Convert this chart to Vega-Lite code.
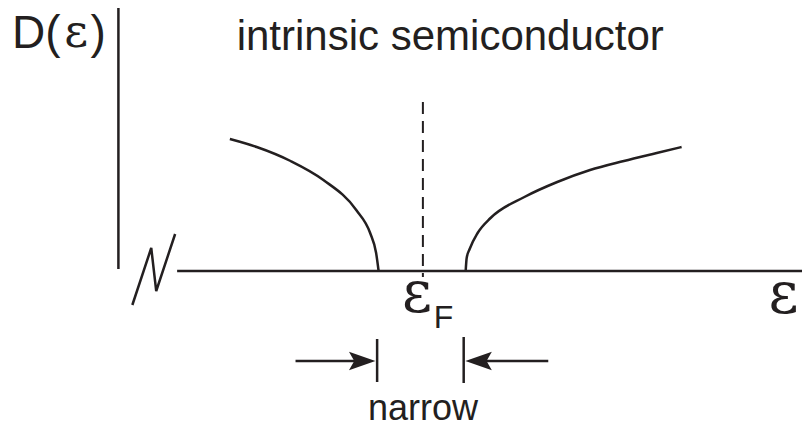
{
  "$schema": "https://vega.github.io/schema/vega-lite/v6.json",
  "width": 807,
  "height": 427,
  "padding": 0,
  "autosize": {"type": "fit", "contains": "padding"},
  "background": "white",
  "config": {"view": {"stroke": null}},
  "datasets": {
    "lines": [
      {"id": "axis", "ord": 0, "x": 119, "y": 8},
      {"id": "axis", "ord": 1, "x": 119, "y": 269},
      {"id": "base", "ord": 0, "x": 178, "y": 271},
      {"id": "base", "ord": 1, "x": 806, "y": 271},
      {"id": "zig", "ord": 0, "x": 133, "y": 305},
      {"id": "zig", "ord": 1, "x": 152, "y": 248},
      {"id": "zig", "ord": 2, "x": 157, "y": 291},
      {"id": "zig", "ord": 3, "x": 176, "y": 234},
      {"id": "arrL", "ord": 0, "x": 297, "y": 361},
      {"id": "arrL", "ord": 1, "x": 368, "y": 361},
      {"id": "arrR", "ord": 0, "x": 551, "y": 361},
      {"id": "arrR", "ord": 1, "x": 477, "y": 361},
      {"id": "barL", "ord": 0, "x": 379, "y": 339},
      {"id": "barL", "ord": 1, "x": 379, "y": 382},
      {"id": "barR", "ord": 0, "x": 466, "y": 337},
      {"id": "barR", "ord": 1, "x": 466, "y": 383}
    ],
    "curves": [
      {"id": "L", "ord": 0, "x": 231, "y": 139},
      {"id": "L", "ord": 1, "x": 258, "y": 147},
      {"id": "L", "ord": 2, "x": 292, "y": 161},
      {"id": "L", "ord": 3, "x": 325, "y": 180},
      {"id": "L", "ord": 4, "x": 358, "y": 210},
      {"id": "L", "ord": 5, "x": 372, "y": 233},
      {"id": "L", "ord": 6, "x": 378, "y": 253},
      {"id": "L", "ord": 7, "x": 380.5, "y": 271},
      {"id": "R", "ord": 0, "x": 468, "y": 271},
      {"id": "R", "ord": 1, "x": 469, "y": 258},
      {"id": "R", "ord": 2, "x": 472, "y": 249},
      {"id": "R", "ord": 3, "x": 480, "y": 233},
      {"id": "R", "ord": 4, "x": 493, "y": 218},
      {"id": "R", "ord": 5, "x": 527, "y": 197},
      {"id": "R", "ord": 6, "x": 560, "y": 182},
      {"id": "R", "ord": 7, "x": 593, "y": 170},
      {"id": "R", "ord": 8, "x": 627, "y": 161},
      {"id": "R", "ord": 9, "x": 660, "y": 153},
      {"id": "R", "ord": 10, "x": 685, "y": 147}
    ],
    "dash": [
      {"id": "F", "ord": 0, "x": 425, "y": 102},
      {"id": "F", "ord": 1, "x": 425, "y": 277}
    ],
    "heads": [
      {"x": 364, "y": 361, "angle": 0},
      {"x": 481, "y": 361, "angle": 180}
    ],
    "title": [{"x": 452.5, "y": 50, "text": "intrinsic semiconductor"}],
    "sansBig": [
      {"x": 12, "y": 48, "text": "D("},
      {"x": 91, "y": 48, "text": ")"}
    ],
    "epsSmall": [{"x": 76.5, "y": 47, "text": "ε"}],
    "epsBig": [
      {"x": 419, "y": 312, "text": "ε"},
      {"x": 787.5, "y": 313, "text": "ε"}
    ],
    "sub": [{"x": 436, "y": 328, "text": "F"}],
    "narrow": [{"x": 425, "y": 420, "text": "narrow"}]
  },
  "encoding": {
    "x": {"field": "x", "type": "quantitative", "scale": {"domain": [0, 807], "nice": false, "zero": false}, "axis": null},
    "y": {"field": "y", "type": "quantitative", "scale": {"domain": [0, 427], "nice": false, "zero": false, "reverse": true}, "axis": null}
  },
  "layer": [
    {
      "data": {"name": "lines"},
      "mark": {"type": "line", "color": "#231f20", "strokeWidth": 2.5},
      "encoding": {"detail": {"field": "id"}, "order": {"field": "ord", "type": "quantitative"}}
    },
    {
      "data": {"name": "curves"},
      "mark": {"type": "line", "color": "#231f20", "strokeWidth": 2.5, "interpolate": "monotone"},
      "encoding": {"detail": {"field": "id"}, "order": {"field": "ord", "type": "quantitative"}}
    },
    {
      "data": {"name": "dash"},
      "mark": {"type": "line", "color": "#231f20", "strokeWidth": 2, "strokeDash": [12, 7]},
      "encoding": {"detail": {"field": "id"}, "order": {"field": "ord", "type": "quantitative"}}
    },
    {
      "data": {"name": "heads"},
      "mark": {"type": "point", "filled": true, "color": "#231f20", "opacity": 1, "size": 700, "shape": "M 1 0 L -1 -0.7 L -0.6 0 L -1 0.7 Z"},
      "encoding": {"angle": {"field": "angle", "type": "quantitative", "scale": null}}
    },
    {
      "data": {"name": "title"},
      "mark": {"type": "text", "font": "Liberation Sans", "fontSize": 42, "align": "center", "baseline": "alphabetic", "color": "#231f20"},
      "encoding": {"text": {"field": "text"}}
    },
    {
      "data": {"name": "sansBig"},
      "mark": {"type": "text", "font": "Liberation Sans", "fontSize": 46, "align": "left", "baseline": "alphabetic", "color": "#231f20"},
      "encoding": {"text": {"field": "text"}}
    },
    {
      "data": {"name": "epsSmall"},
      "mark": {"type": "text", "font": "DejaVu Serif", "fontSize": 46, "align": "center", "baseline": "alphabetic", "color": "#231f20"},
      "encoding": {"text": {"field": "text"}}
    },
    {
      "data": {"name": "epsBig"},
      "mark": {"type": "text", "font": "DejaVu Serif", "fontSize": 58, "align": "center", "baseline": "alphabetic", "color": "#231f20"},
      "encoding": {"text": {"field": "text"}}
    },
    {
      "data": {"name": "sub"},
      "mark": {"type": "text", "font": "Liberation Sans", "fontSize": 32, "align": "left", "baseline": "alphabetic", "color": "#231f20"},
      "encoding": {"text": {"field": "text"}}
    },
    {
      "data": {"name": "narrow"},
      "mark": {"type": "text", "font": "Liberation Sans", "fontSize": 36, "align": "center", "baseline": "alphabetic", "color": "#231f20"},
      "encoding": {"text": {"field": "text"}}
    }
  ]
}
